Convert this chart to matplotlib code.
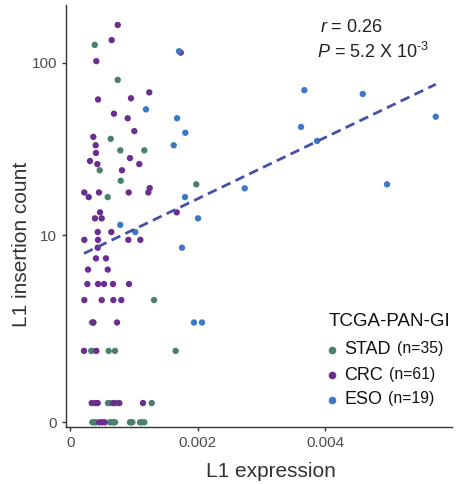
import numpy as np
import matplotlib
matplotlib.use('Agg')
import matplotlib.pyplot as plt

plt.rcParams['font.family'] = ['Liberation Sans', 'DejaVu Sans']
plt.rcParams['mathtext.fontset'] = 'custom'
plt.rcParams['mathtext.rm'] = 'Liberation Sans'
plt.rcParams['mathtext.it'] = 'Liberation Sans:italic'

# STAD (n=35)
stad_x = [0.000383, 0.000744, 0.000634, 0.000784, 0.001161, 0.000461, 0.000791, 0.001976,
          0.000587, 0.001313, 0.000340, 0.000329, 0.000602, 0.000701, 0.001653, 0.000591,
          0.000717, 0.001277, 0.000345, 0.000376, 0.000623, 0.000701, 0.000936, 0.000973,
          0.001093, 0.001161, 0.000400, 0.000650, 0.000950, 0.001120, 0.000680, 0.000700,
          0.000620, 0.000340, 0.000360]
stad_y = [126, 80, 37, 31.8, 31.8, 24.4, 21.2, 20.2,
          17, 3.8, 2.6, 1.5, 1.5, 1.5, 1.5, 0.28,
          0.28, 0.28, 0, 0, 0, 0, 0, 0,
          0, 0, 0, 0, 0, 0, 0, 0.28,
          0.28, 1.5, 2.6]

# CRC (n=61)
crc_x = [0.000744, 0.000649, 0.001732, 0.000408, 0.001239, 0.000435, 0.000952, 0.000685,
         0.000900, 0.001004, 0.000361, 0.000398, 0.000403, 0.000309, 0.000936, 0.000424,
         0.001082, 0.000811, 0.000220, 0.000289, 0.000450, 0.000916, 0.001245, 0.001224,
         0.000466, 0.000387, 0.000493, 0.001669, 0.000430, 0.000643, 0.000220, 0.000435,
         0.000910, 0.001098, 0.000430, 0.000403, 0.000560, 0.000278, 0.000587, 0.000267,
         0.000435, 0.000529, 0.000670, 0.000921, 0.000220, 0.000493, 0.000675, 0.000800,
         0.000361, 0.000733, 0.000215, 0.000408, 0.000336, 0.000430, 0.000675, 0.000769,
         0.001140, 0.000455, 0.000540, 0.000500, 0.000390]
crc_y = [163, 134, 114, 102, 68, 62, 63, 51.5,
         48.5, 41, 38, 34, 30.7, 27.6, 28.7, 26.5,
         26.5, 24.4, 18.1, 17, 18.1, 18.1, 19.2, 18.1,
         13.8, 12.7, 12.7, 13.8, 10.5, 10.5, 9.4, 9.4,
         9.4, 9.4, 8.4, 7.2, 7.2, 6.1, 6.1, 4.9,
         4.9, 4.9, 4.9, 4.9, 3.8, 3.8, 3.8, 3.8,
         2.6, 2.6, 1.5, 1.5, 0.28, 0.28, 0.28, 0.28,
         0.28, 0, 0, 0, 0.28]

# ESO (n=19)
eso_x = [0.001705, 0.003671, 0.004587, 0.001187, 0.001674, 0.005732, 0.003619, 0.001804,
         0.003870, 0.001622, 0.002736, 0.001799, 0.004968, 0.002003, 0.000784, 0.001020,
         0.001752, 0.001940, 0.002066]
eso_y = [116, 70, 66.6, 54.5, 48.5, 49.5, 43.3, 40.1,
         36, 34, 19.15, 17, 20.2, 12.7, 11.6, 10.5,
         8.4, 2.6, 2.6]

groups = ['STAD', 'CRC', 'ESO']
group_n = ['(n=35)', '(n=61)', '(n=19)']
colors = ['#4a806e', '#6b2d8f', '#3c78c8']

# fitted line as shown, on log10(count + 1) scale
fit_slope = 170.9
fit_intercept = 0.9044


def fwd(y):
    return np.log10(np.asarray(y) + 1)


def inv(t):
    return 10 ** np.asarray(t) - 1


fig = plt.figure(figsize=(4.57, 4.84), dpi=100)
ax = fig.add_axes([66 / 457, 1 - 427 / 484, (452 - 66) / 457, (427 - 5) / 484])
ax.set_yscale('function', functions=(fwd, inv))

for gx, gy, c in zip([stad_x, crc_x, eso_x], [stad_y, crc_y, eso_y], colors):
    ax.scatter(gx, gy, s=21, color=c, edgecolors='none', zorder=3)

all_x = np.array(stad_x + crc_x + eso_x)
lx = np.array([all_x.min(), all_x.max()])
ax.plot(lx, inv(fit_intercept + fit_slope * lx), color='#4352a8', lw=2, ls=(0, (3.5, 2)), zorder=4)

ax.set_xlim(-0.0000674, 0.005987)
ax.set_ylim(inv(-0.0262), inv(2.326))
ax.set_xticks([0, 0.002, 0.004])
ax.set_xticklabels(['0', '0.002', '0.004'])
ax.set_yticks([0, 10, 100])
ax.set_yticklabels(['0', '10', '100'])
ax.yaxis.set_minor_locator(matplotlib.ticker.NullLocator())
ax.tick_params(labelsize=11, colors='#333333', labelcolor='#4d4d4d', length=3, width=1)

for side in ['top', 'right']:
    ax.spines[side].set_visible(False)
for side in ['left', 'bottom']:
    ax.spines[side].set_color('#333333')
    ax.spines[side].set_linewidth(1)

ax.set_xlabel('L1 expression', fontsize=15, color='#333333', va='center')
ax.set_ylabel('L1 insertion count', fontsize=15, color='#333333', va='center')
ax.xaxis.set_label_coords((271 - 66) / 386, (427 - 471.5) / 422)
ax.yaxis.set_label_coords((22 - 66) / 386, (427 - 244) / 422)

fig.text(320 / 457, 1 - 28 / 484, r'$\mathit{r}$ = 0.26', fontsize=13, color='#222222', va='center')
fig.text(317 / 457, 1 - 52 / 484, r'$\mathit{P}$ = 5.2 X 10$^{\text{-3}}$', fontsize=13,
         color='#222222', va='center')

# legend drawn by hand
fig.text(329 / 457, 1 - 321 / 484, 'TCGA-PAN-GI', fontsize=13.5, color='#111111', va='center')
renderer = fig.canvas.get_renderer()
for i, (g, n, c) in enumerate(zip(groups, group_n, colors)):
    yy = 1 - (350 + 25 * i) / 484
    fig.add_artist(matplotlib.lines.Line2D([332 / 457], [yy], marker='o', ms=5.5, color=c,
                                           mec='none', transform=fig.transFigure))
    t = fig.text(344 / 457, yy, g, fontsize=13, color='#111111', va='center')
    bb = t.get_window_extent(renderer)
    fig.text((bb.x1 + 6) / 457, yy + 1 / 484, n, fontsize=11.3, color='#111111', va='center')

fig.savefig('out.png', dpi=100)
